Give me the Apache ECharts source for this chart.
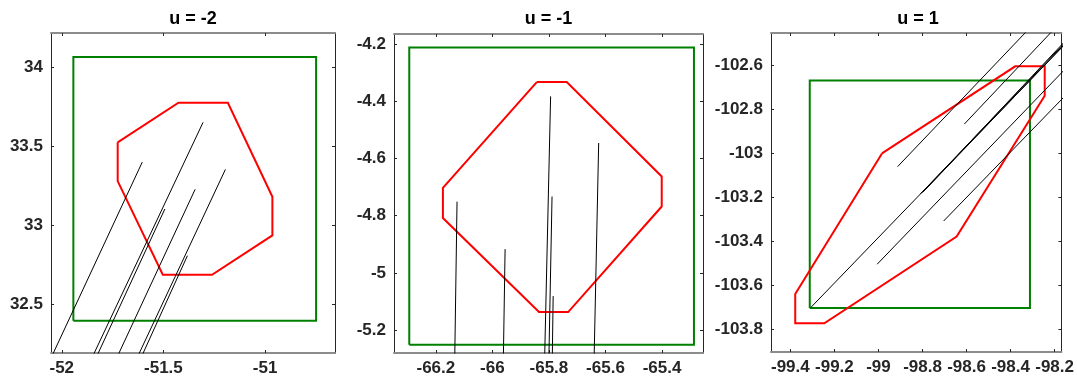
<!DOCTYPE html>
<html>
<head>
<meta charset="utf-8">
<script src="https://cdn.jsdelivr.net/npm/echarts@6/dist/echarts.min.js"></script>
<style>
  html, body { margin: 0; padding: 0; background: #ffffff; }
  #chart { width: 1077px; height: 379px; }
</style>
</head>
<body>
<div id="chart"></div>
<script>
// Panel titles
const titles = ['u = -2', 'u = -1', 'u = 1'];

// Axis ranges [min, max]
const xRange1 = [-52.053, -50.656];
const yRange1 = [32.195, 34.215];
const xRange2 = [-66.348, -65.255];
const yRange2 = [-5.28, -4.165];
const xRange3 = [-99.488, -98.169];
const yRange3 = [-103.905, -102.451];

// Tick labels
const xTicks1 = [-52, -51.5, -51];
const yTicks1 = [32.5, 33, 33.5, 34];
const xTicks2 = [-66.2, -66, -65.8, -65.6, -65.4];
const yTicks2 = [-5.2, -5, -4.8, -4.6, -4.4, -4.2];
const xTicks3 = [-99.4, -99.2, -99, -98.8, -98.6, -98.4, -98.2];
const yTicks3 = [-103.8, -103.6, -103.4, -103.2, -103, -102.8, -102.6];

// Bounding boxes (closed rectangles)
const box1 = [[-51.943, 32.399], [-50.749, 32.399], [-50.749, 34.063], [-51.943, 34.063], [-51.943, 32.399]];
const box2 = [[-66.294, -5.251], [-65.287, -5.251], [-65.287, -4.212], [-66.294, -4.212], [-66.294, -5.251]];
const box3 = [[-99.312, -103.705], [-98.312, -103.705], [-98.312, -102.667], [-99.312, -102.667], [-99.312, -103.705]];

// Region outlines (closed polygons)
const region1 = [
  [-51.725, 33.525], [-51.426, 33.775], [-51.183, 33.775], [-50.964, 33.181],
  [-50.964, 32.937], [-51.261, 32.689], [-51.503, 32.689], [-51.725, 33.280],
  [-51.725, 33.525]
];
const region2 = [
  [-65.843, -4.333], [-65.737, -4.333], [-65.401, -4.663], [-65.401, -4.768],
  [-65.732, -5.137], [-65.835, -5.137], [-66.175, -4.808], [-66.175, -4.703],
  [-65.843, -4.333]
];
const region3 = [
  [-98.984, -103.000], [-98.379, -102.603], [-98.245, -102.603], [-98.245, -102.737],
  [-98.645, -103.379], [-99.246, -103.774], [-99.378, -103.774], [-99.378, -103.641],
  [-98.984, -103.000]
];

// Track segments [start, end]
const tracks1 = [
  [[-52.045, 32.185], [-51.604, 33.400]],
  [[-51.844, 32.185], [-51.305, 33.651]],
  [[-51.824, 32.185], [-51.493, 33.104]],
  [[-51.722, 32.185], [-51.344, 33.228]],
  [[-51.622, 32.185], [-51.195, 33.354]],
  [[-51.603, 32.185], [-51.382, 32.809]]
];
const tracks2 = [
  [[-66.133, -5.29], [-66.125, -4.751]],
  [[-65.961, -5.29], [-65.955, -4.917]],
  [[-65.815, -5.29], [-65.794, -4.383]],
  [[-65.800, -5.29], [-65.789, -4.733]],
  [[-65.788, -5.29], [-65.785, -5.081]],
  [[-65.640, -5.29], [-65.624, -4.546]]
];
const tracks3 = [
  [[-98.913, -103.060], [-98.286, -102.400]],
  [[-98.610, -102.866], [-98.171, -102.400]],
  [[-98.809, -103.184], [-98.100, -102.439]],
  [[-98.800, -103.178], [-98.100, -102.445]],
  [[-98.792, -103.170], [-98.100, -102.432]],
  [[-99.307, -103.702], [-98.100, -102.447]],
  [[-99.006, -103.505], [-98.100, -102.561]],
  [[-98.704, -103.308], [-98.100, -102.683]]
];

const panels = [
  { title: titles[0], xr: xRange1, yr: yRange1, xt: xTicks1, yt: yTicks1, box: box1, region: region1, tracks: tracks1,
    grid: { left: 51, top: 33, width: 284, height: 320 } },
  { title: titles[1], xr: xRange2, yr: yRange2, xt: xTicks2, yt: yTicks2, box: box2, region: region2, tracks: tracks2,
    grid: { left: 394, top: 34, width: 309, height: 319 } },
  { title: titles[2], xr: xRange3, yr: yRange3, xt: xTicks3, yt: yTicks3, box: box3, region: region3, tracks: tracks3,
    grid: { left: 771, top: 33, width: 294, height: 319 } }
];

const FONT = '"Liberation Sans", Arial, Helvetica, sans-serif';
const TEXT = '#262626';
const HLINE = '#8c8c8c';

const option = {
  backgroundColor: '#ffffff',
  animation: false,
  title: [],
  grid: [],
  xAxis: [],
  yAxis: [],
  series: []
};

panels.forEach((p, i) => {
  option.grid.push(Object.assign({ containLabel: false }, p.grid));
  option.title.push({
    text: p.title,
    left: p.grid.left + p.grid.width / 2,
    top: 10,
    padding: 0,
    textAlign: 'center',
    textStyle: { fontFamily: FONT, fontWeight: 'bold', fontSize: 18, color: '#000000' }
  });

  const tickStyle = { show: true, inside: true, length: 3, lineStyle: { color: TEXT, width: 1 } };

  // bottom x axis with labels
  option.xAxis.push({
    type: 'value', gridIndex: i, position: 'bottom', min: p.xr[0], max: p.xr[1],
    axisLine: { show: true, onZero: false, lineStyle: { color: HLINE, width: 2 } },
    axisTick: Object.assign({ customValues: p.xt }, tickStyle),
    axisLabel: { show: true, customValues: p.xt, margin: 7, color: TEXT, fontFamily: FONT, fontWeight: 'bold', fontSize: 17,
      formatter: v => String(v) },
    splitLine: { show: false }
  });
  // top x axis (ticks only)
  option.xAxis.push({
    type: 'value', gridIndex: i, position: 'top', min: p.xr[0], max: p.xr[1],
    axisLine: { show: true, onZero: false, lineStyle: { color: HLINE, width: 2 } },
    axisTick: Object.assign({ customValues: p.xt }, tickStyle),
    axisLabel: { show: false },
    splitLine: { show: false }
  });
  // left y axis with labels
  option.yAxis.push({
    type: 'value', gridIndex: i, position: 'left', min: p.yr[0], max: p.yr[1],
    axisLine: { show: true, onZero: false, lineStyle: { color: TEXT, width: 1 } },
    axisTick: Object.assign({ customValues: p.yt }, tickStyle),
    axisLabel: { show: true, customValues: p.yt, margin: 8, color: TEXT, fontFamily: FONT, fontWeight: 'bold', fontSize: 17,
      formatter: v => String(v) },
    splitLine: { show: false }
  });
  // right y axis (ticks only)
  option.yAxis.push({
    type: 'value', gridIndex: i, position: 'right', min: p.yr[0], max: p.yr[1],
    axisLine: { show: true, onZero: false, lineStyle: { color: TEXT, width: 1 } },
    axisTick: Object.assign({ customValues: p.yt }, tickStyle),
    axisLabel: { show: false },
    splitLine: { show: false }
  });

  const xi = i * 2, yi = i * 2;
  const base = { type: 'line', xAxisIndex: xi, yAxisIndex: yi, showSymbol: false, symbol: 'none', clip: true, silent: true };

  option.series.push(Object.assign({}, base, {
    data: p.box, z: 2,
    lineStyle: { color: '#008000', width: 2, join: 'miter' }
  }));
  option.series.push(Object.assign({}, base, {
    data: p.region, z: 3,
    lineStyle: { color: '#ff0000', width: 2, join: 'miter' }
  }));
  p.tracks.forEach(seg => {
    option.series.push(Object.assign({}, base, {
      data: seg, z: 4,
      lineStyle: { color: '#000000', width: 1 }
    }));
  });
});

const chart = echarts.init(document.getElementById('chart'), null, { renderer: 'canvas' });
chart.setOption(option);
</script>
</body>
</html>
